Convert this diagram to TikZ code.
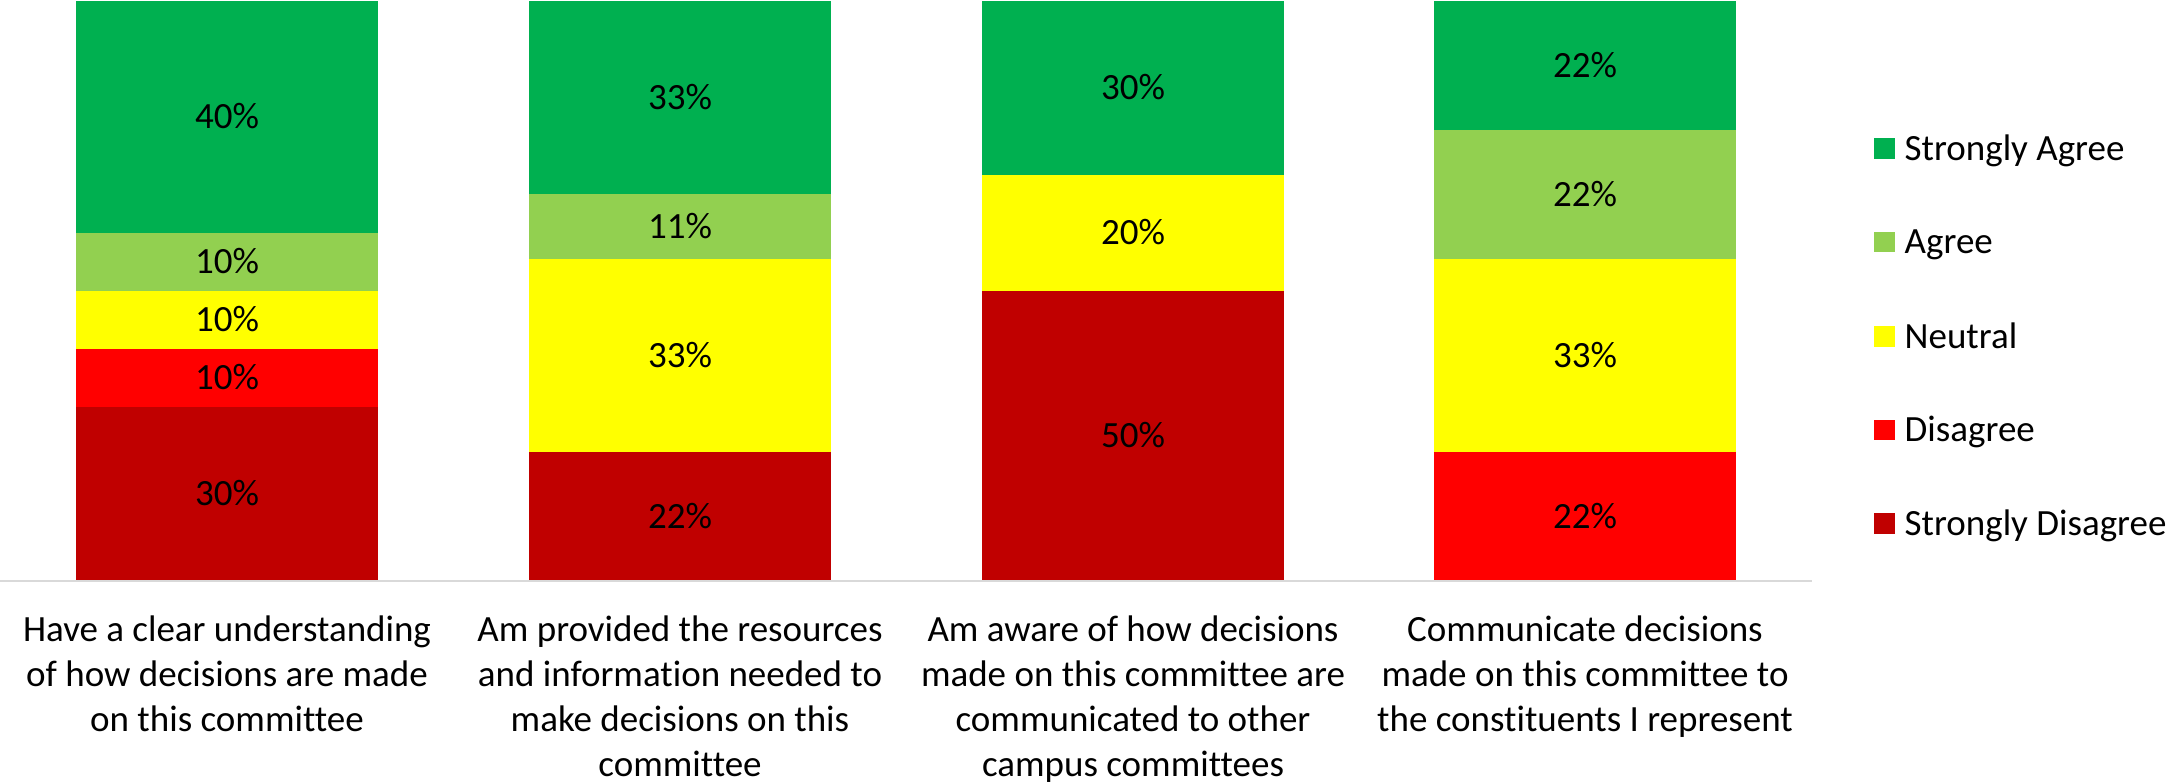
\documentclass[tikz,border=0pt]{standalone}
\usepackage{fontspec}
\setmainfont{Carlito}[Ligatures={NoCommon}]
\definecolor{sa}{HTML}{00B050}
\definecolor{ag}{HTML}{92D050}
\definecolor{ne}{HTML}{FFFF00}
\definecolor{di}{HTML}{FF0000}
\definecolor{sd}{HTML}{C00000}
\definecolor{axisgray}{HTML}{D9D9D9}
\begin{document}
\begin{tikzpicture}[x=1pt,y=-1pt,
  font=\fontsize{37}{45}\selectfont,
  seg/.style={draw=none, fill=#1, rectangle, minimum width=302pt, inner sep=0pt,
              text height=23.4pt, text depth=0pt, anchor=center},
  lgbox/.style={draw=none, fill=#1, rectangle, minimum size=20.5pt, inner sep=0pt},
  lgtext/.style={inner sep=0pt, anchor=west, text height=23.8pt, text depth=0pt},
  cat/.style={inner sep=0pt, anchor=base}]
\useasboundingbox (0,0) rectangle (2171,782);
% Bar 1
\node[seg=sa, minimum height=232pt] (b1a) at (227,117) {40\%};
\node[seg=ag, minimum height=58pt]  (b1b) at (227,262) {10\%};
\node[seg=ne, minimum height=58pt]  (b1c) at (227,320) {10\%};
\node[seg=di, minimum height=58pt]  (b1d) at (227,378) {10\%};
\node[seg=sd, minimum height=174pt] (b1e) at (227,494) {30\%};
% Bar 2
\node[seg=sa, minimum height=193.3pt] (b2a) at (680,97.65) {33\%};
\node[seg=ag, minimum height=64.5pt]  (b2b) at (680,226.55) {11\%};
\node[seg=ne, minimum height=193.3pt] (b2c) at (680,355.45) {33\%};
\node[seg=sd, minimum height=128.9pt] (b2d) at (680,516.55) {22\%};
% Bar 3
\node[seg=sa, minimum height=174pt] (b3a) at (1133,88) {30\%};
\node[seg=ne, minimum height=116pt] (b3b) at (1133,233) {20\%};
\node[seg=sd, minimum height=290pt] (b3c) at (1133,436) {50\%};
% Bar 4
\node[seg=sa, minimum height=128.9pt] (b4a) at (1585,65.45) {22\%};
\node[seg=ag, minimum height=128.9pt] (b4b) at (1585,194.35) {22\%};
\node[seg=ne, minimum height=193.3pt] (b4c) at (1585,355.45) {33\%};
\node[seg=di, minimum height=128.9pt] (b4d) at (1585,516.55) {22\%};
% Axis
\coordinate (ax0) at (0,581);
\coordinate (ax1) at (1812,581);
\draw[axisgray, line width=1.5pt] (ax0) -- (ax1);
% Category labels
\node[cat] (c1) at (227,641) {\parbox[t]{440pt}{\centering Have a clear understanding\\of how decisions are made\\on this committee}};
\node[cat] (c2) at (680,641) {\parbox[t]{440pt}{\centering Am provided the resources\\and information needed to\\make decisions on this\\committee}};
\node[cat] (c3) at (1133,641) {\parbox[t]{440pt}{\centering Am aware of how decisions\\made on this committee are\\communicated to other\\campus committees}};
\node[cat] (c4) at (1585,641) {\parbox[t]{440pt}{\centering Communicate decisions\\made on this committee to\\the constituents I represent}};
% Legend
\node[lgbox=sa] (l1) at (1884.3,148.5) {};
\node[lgbox=ag] (l2) at (1884.3,242) {};
\node[lgbox=ne] (l3) at (1884.3,336.5) {};
\node[lgbox=di] (l4) at (1884.3,430) {};
\node[lgbox=sd] (l5) at (1884.3,523.5) {};
\node[lgtext] (t1) at (1904.5,148.5) {Strongly Agree};
\node[lgtext] (t2) at (1904.5,242) {Agree};
\node[lgtext] (t3) at (1904.5,336.5) {Neutral};
\node[lgtext] (t4) at (1904.5,430) {Disagree};
\node[lgtext] (t5) at (1904.5,523.5) {Strongly Disagree};
\end{tikzpicture}
\end{document}
